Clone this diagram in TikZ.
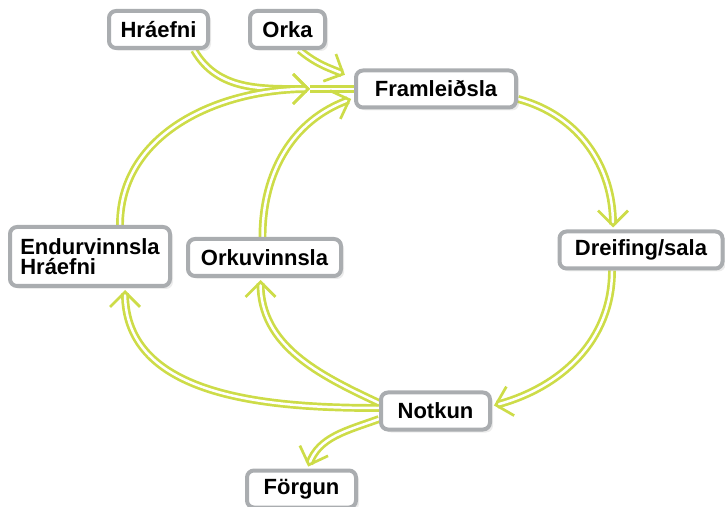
\documentclass[tikz,border=0pt]{standalone}
\usepackage{fontspec}
\setmainfont{Liberation Sans}
\usetikzlibrary{arrows.meta,shadows,backgrounds}
\definecolor{flowgreen}{RGB}{205,220,72}
\definecolor{boxgray}{RGB}{170,173,176}
\tikzset{
  stage/.style={draw=boxgray, line width=4pt, fill=white, rounded corners=7pt,
    minimum height=37pt, inner xsep=8pt, font=\fontsize{22}{20}\selectfont\bfseries,
    drop shadow={opacity=0.15, shadow xshift=3pt, shadow yshift=-3pt}},
  flow/.style={draw=flowgreen, line width=2.7pt, double=white, double distance=2.5pt,
    -{Straight Barb[length=15pt,width=30pt]}}
}

\begin{document}
\begin{tikzpicture}[x=1pt,y=1pt]
\useasboundingbox (0,0) rectangle (725,506);
\coordinate (M) at (310,417);

\node [stage, minimum width=99pt] (Hraefni) at (158.5,476.5) {Hráefni};
\node [stage, minimum width=75pt] (Orka) at (287.5,476.5) {Orka};
\node [stage, minimum width=160pt] (Framleidsla) at (436,417) {Framleiðsla};
\node [stage, minimum width=163pt] (Dreifing) at (641,256) {Dreifing/sala};
\node [stage, minimum width=160pt, minimum height=59pt, align=left] (Endurvinnsla) at (90,249.5) {Endurvinnsla\\Hráefni};
\node [stage, minimum width=153pt] (Orkuvinnsla) at (264.5,248.5) {Orkuvinnsla};
\node [stage, minimum width=109pt] (Notkun) at (435.5,95) {Notkun};
\node [stage, minimum width=109pt] (Forgun) at (301.5,17) {Förgun};

\begin{scope}[on background layer]
\draw [flow] ([xshift=-16pt]Hraefni.south east) to [out=-60, in=180] (M);
\draw [flow] ([xshift=30pt]Endurvinnsla.north) to [out=90, in=180] (M);
\draw [flow, -] (M) -- (Framleidsla.west);
\draw [flow, shorten >=10pt] ([xshift=12pt]Orka.south) to [out=-40, in=155] ([yshift=10pt]Framleidsla.west);
\draw [flow, shorten >=3pt] ([xshift=-2pt]Orkuvinnsla.north) to [out=90, in=200] ([yshift=-9pt]Framleidsla.west);
\draw [flow, shorten >=2pt] ([yshift=-10pt]Framleidsla.east) to [out=-15, in=90] ([xshift=-28pt]Dreifing.north);
\draw [flow, shorten >=2pt] ([xshift=-29pt]Dreifing.south) to [out=-90, in=15] ([yshift=5pt]Notkun.east);
\draw [flow, shorten >=2pt] ([yshift=3pt]Notkun.west) to [out=180, in=-90] ([xshift=35pt]Endurvinnsla.south);
\draw [flow, shorten >=2pt] ([yshift=8pt]Notkun.west) to [out=155, in=-90] ([xshift=-4pt]Orkuvinnsla.south);
\draw [flow, shorten >=2pt] ([yshift=-8pt]Notkun.west) to [out=200, in=70] ([xshift=6pt]Forgun.north);
\end{scope}
\end{tikzpicture}
\end{document}
